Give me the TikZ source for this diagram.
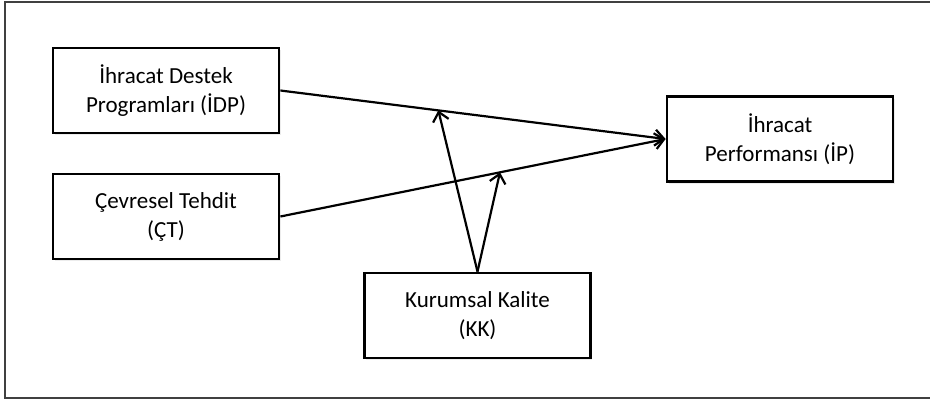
\documentclass[tikz,border=0pt]{standalone}
\usepackage{fontspec}
\setmainfont{Carlito}
\usepackage{tikz}
\usetikzlibrary{shapes,arrows,arrows.meta,positioning,calc,shadows}

\begin{document}
\begin{tikzpicture}[x=1pt, y=-1pt, node distance=126pt, line width=2.2pt,
  >={Straight Barb[length=9pt,width=16pt]},
  font=\fontsize{23}{29}\selectfont]
\useasboundingbox (0,0) rectangle (930,399);
% Çerçeve
\draw[black!75, line width=2.2pt] (930,2) coordinate (fr1) -- (5,2) -- (5,398) -- (930,398) coordinate (fr2);

% Kutular
\node[draw, rectangle, line width=2.8pt, align=center, minimum width=226pt, minimum height=85pt, fill=white, drop shadow={shadow xshift=1.5pt, shadow yshift=-2pt, opacity=0.15}] (idp) at (166,90.5) {İhracat Destek\\Programları (İDP)};
\node[draw, rectangle, line width=2.8pt, align=center, minimum width=226pt, minimum height=85pt, fill=white, drop shadow={shadow xshift=1.5pt, shadow yshift=-2pt, opacity=0.15}, below of=idp] (ct) {Çevresel Tehdit\\(ÇT)};
\node[draw, rectangle, line width=2.8pt, align=center, minimum width=226pt, minimum height=85pt, fill=white, drop shadow={shadow xshift=1.5pt, shadow yshift=-2pt, opacity=0.15}] (kk) at (477.5,315.5) {Kurumsal Kalite\\(KK)};
\node[draw, rectangle, line width=2.8pt, align=center, minimum width=226pt, minimum height=85pt, fill=white, drop shadow={shadow xshift=1.5pt, shadow yshift=-2pt, opacity=0.15}] (ip) at (780,139) {İhracat\\Performansı (İP)};

% Oklar
\draw[->] (idp.east) -- (ip.west);
\draw[->] (ct.east) -- (ip.west);
\coordinate (m1) at ($(idp.east)!0.41!(ip.west)$);
\coordinate (m2) at ($(ct.east)!0.57!(ip.west)$);
\draw[->] (kk.north) -- (m1);
\draw[->] (kk.north) -- (m2);
\end{tikzpicture}
\end{document}
